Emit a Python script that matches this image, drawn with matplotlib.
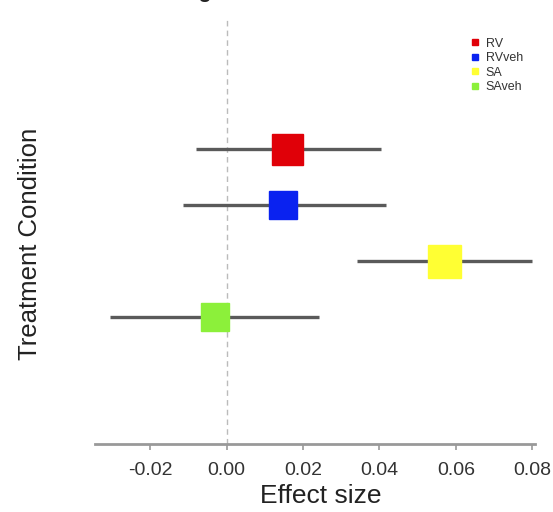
import matplotlib
matplotlib.use("Agg")
import matplotlib.pyplot as plt

plt.rcParams["font.family"] = ["Liberation Sans", "DejaVu Sans"]

# ── data
conditions = ["RV", "RVveh", "SA", "SAveh"]
estimates  = [0.0159, 0.0149, 0.0570, -0.0031]
ci_low     = [-0.0081, -0.0115, 0.0342, -0.0306]
ci_high    = [0.0403, 0.0418, 0.0800, 0.0243]
weights    = [31, 28, 33, 28]          # marker edge length (px)
colors     = ["#e00008", "#0a22f0", "#ffff33", "#8cf03a"]
xticks     = [-0.02, 0.00, 0.02, 0.04, 0.06, 0.08]

ypos = list(range(len(conditions), 0, -1))   # RV on top

fig = plt.figure(figsize=(5.53, 5.12), dpi=100)
ax = fig.add_axes([95 / 553, 1 - 444 / 512, 440 / 553, 424 / 512])

ax.axvline(0, color="#bbbbbb", linestyle=(0, (4, 3)), linewidth=1.0, zorder=1)

for y, est, lo, hi, w, c, lab in zip(ypos, estimates, ci_low, ci_high,
                                     weights, colors, conditions):
    ax.plot([lo, hi], [y, y], color="#5a5a5a", linewidth=2.4,
            solid_capstyle="butt", zorder=2)
    ax.plot(est, y, marker="s", markersize=w * 0.72, color=c,
            markeredgecolor=c, linestyle="none", zorder=3)
    ax.plot([], [], marker="s", markersize=4.2, color=c, linestyle="none",
            label=lab)

ax.set_xlim(-0.0344, 0.0807)
ax.set_ylim(-1.27, 6.3)

ax.set_xticks(xticks)
ax.set_xticklabels([f"{t:.2f}" for t in xticks])
ax.set_yticks([])

for s in ("top", "right", "left"):
    ax.spines[s].set_visible(False)
ax.spines["bottom"].set_color("#999999")
ax.spines["bottom"].set_linewidth(2.0)
ax.tick_params(axis="x", colors="#999999", length=4, width=1.2,
               labelsize=14, labelcolor="#333333", pad=9)

ax.set_xlabel("Effect size", fontsize=19, color="#222222")
ax.xaxis.set_label_coords(0.514, -0.095)
ax.set_ylabel("Treatment Condition", fontsize=18.5, color="#222222",
              va="center")
ax.yaxis.set_label_coords(-0.148, 0.472)

leg = ax.legend(loc="upper left", bbox_to_anchor=(0.84, 0.97), frameon=False,
                fontsize=9, handlelength=0.8, handletextpad=0.5,
                labelspacing=0.2, borderaxespad=0)
for t in leg.get_texts():
    t.set_color("#333333")

# title sits almost entirely above the top edge, as in the source image
fig.text(315 / 553, 1 + 1.5 / 512, "Log Ratio: Treatment Effects",
         ha="center", va="baseline", fontsize=15, fontweight="bold",
         color="#222222")

fig.savefig("out.png", dpi=100, facecolor="white")
